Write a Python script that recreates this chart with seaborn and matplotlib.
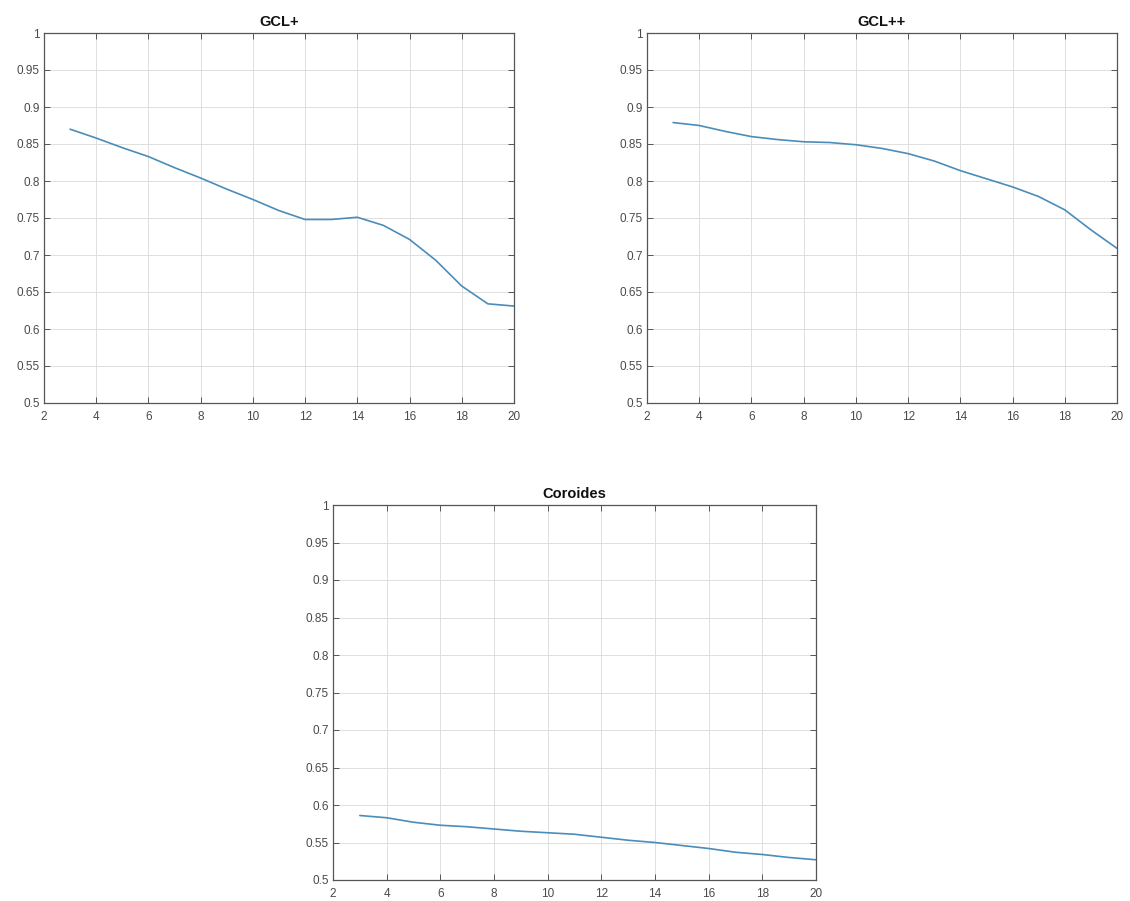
import numpy as np
import pandas as pd
import seaborn as sns
import matplotlib
matplotlib.use("Agg")
import matplotlib.pyplot as plt

# Number of clusters on the x axis
k_values = list(range(3, 21))

# Score per layer
gcl_plus = [0.870, 0.858, 0.845, 0.833, 0.818, 0.804, 0.789, 0.775, 0.760,
            0.748, 0.748, 0.751, 0.740, 0.721, 0.693, 0.658, 0.634, 0.631]
gcl_plusplus = [0.879, 0.875, 0.867, 0.860, 0.856, 0.853, 0.852, 0.849, 0.844,
                0.837, 0.827, 0.814, 0.803, 0.792, 0.779, 0.761, 0.734, 0.709]
coroides = [0.586, 0.583, 0.577, 0.573, 0.571, 0.568, 0.565, 0.563, 0.561,
            0.557, 0.553, 0.550, 0.546, 0.542, 0.537, 0.534, 0.530, 0.527]

titles = ["GCL+", "GCL++", "Coroides"]
series = [gcl_plus, gcl_plusplus, coroides]

x_ticks = list(range(2, 21, 2))
y_ticks = [0.5, 0.55, 0.6, 0.65, 0.7, 0.75, 0.8, 0.85, 0.9, 0.95, 1.0]
y_tick_labels = ["0.5", "0.55", "0.6", "0.65", "0.7", "0.75", "0.8", "0.85",
                 "0.9", "0.95", "1"]

sns.set_theme(style="white")
plt.rcParams["font.family"] = ["Liberation Sans", "DejaVu Sans"]

W, H = 1130, 901
fig = plt.figure(figsize=(W / 100, H / 100), dpi=100)
fig.patch.set_facecolor("white")

# axes boxes in pixels: left, top, right, bottom
boxes = [(44, 33, 514, 403), (647, 33, 1117, 403), (333, 505, 816, 880)]

line_color = "#4a8dba"
axis_color = "#555555"

for (l, t, r, b), title, vals in zip(boxes, titles, series):
    ax = fig.add_axes([l / W, (H - b) / H, (r - l) / W, (b - t) / H])
    df = pd.DataFrame({"k": k_values, "score": vals})
    sns.lineplot(data=df, x="k", y="score", ax=ax, color=line_color,
                 linewidth=1.2)
    ax.set_xlim(2, 20)
    ax.set_ylim(0.5, 1.0)
    ax.set_xticks(x_ticks)
    ax.set_yticks(y_ticks)
    ax.set_yticklabels(y_tick_labels)
    ax.set_xlabel("")
    ax.set_ylabel("")
    ax.grid(True, color="#dedede", linewidth=0.7)
    ax.set_axisbelow(True)
    for s in ax.spines.values():
        s.set_visible(True)
        s.set_color(axis_color)
        s.set_linewidth(0.9)
    ax.tick_params(axis="both", which="both", direction="in", length=4,
                   width=0.7, color=axis_color, labelsize=8.5,
                   labelcolor="#4a4a4a", top=True, right=True,
                   bottom=True, left=True)
    ax.tick_params(axis="x", pad=6)
    ax.tick_params(axis="y", pad=3)
    ax.set_title(title, fontsize=10.5, fontweight="bold", color="#111111",
                 pad=5)

fig.savefig("out.png", dpi=100, facecolor="white")
